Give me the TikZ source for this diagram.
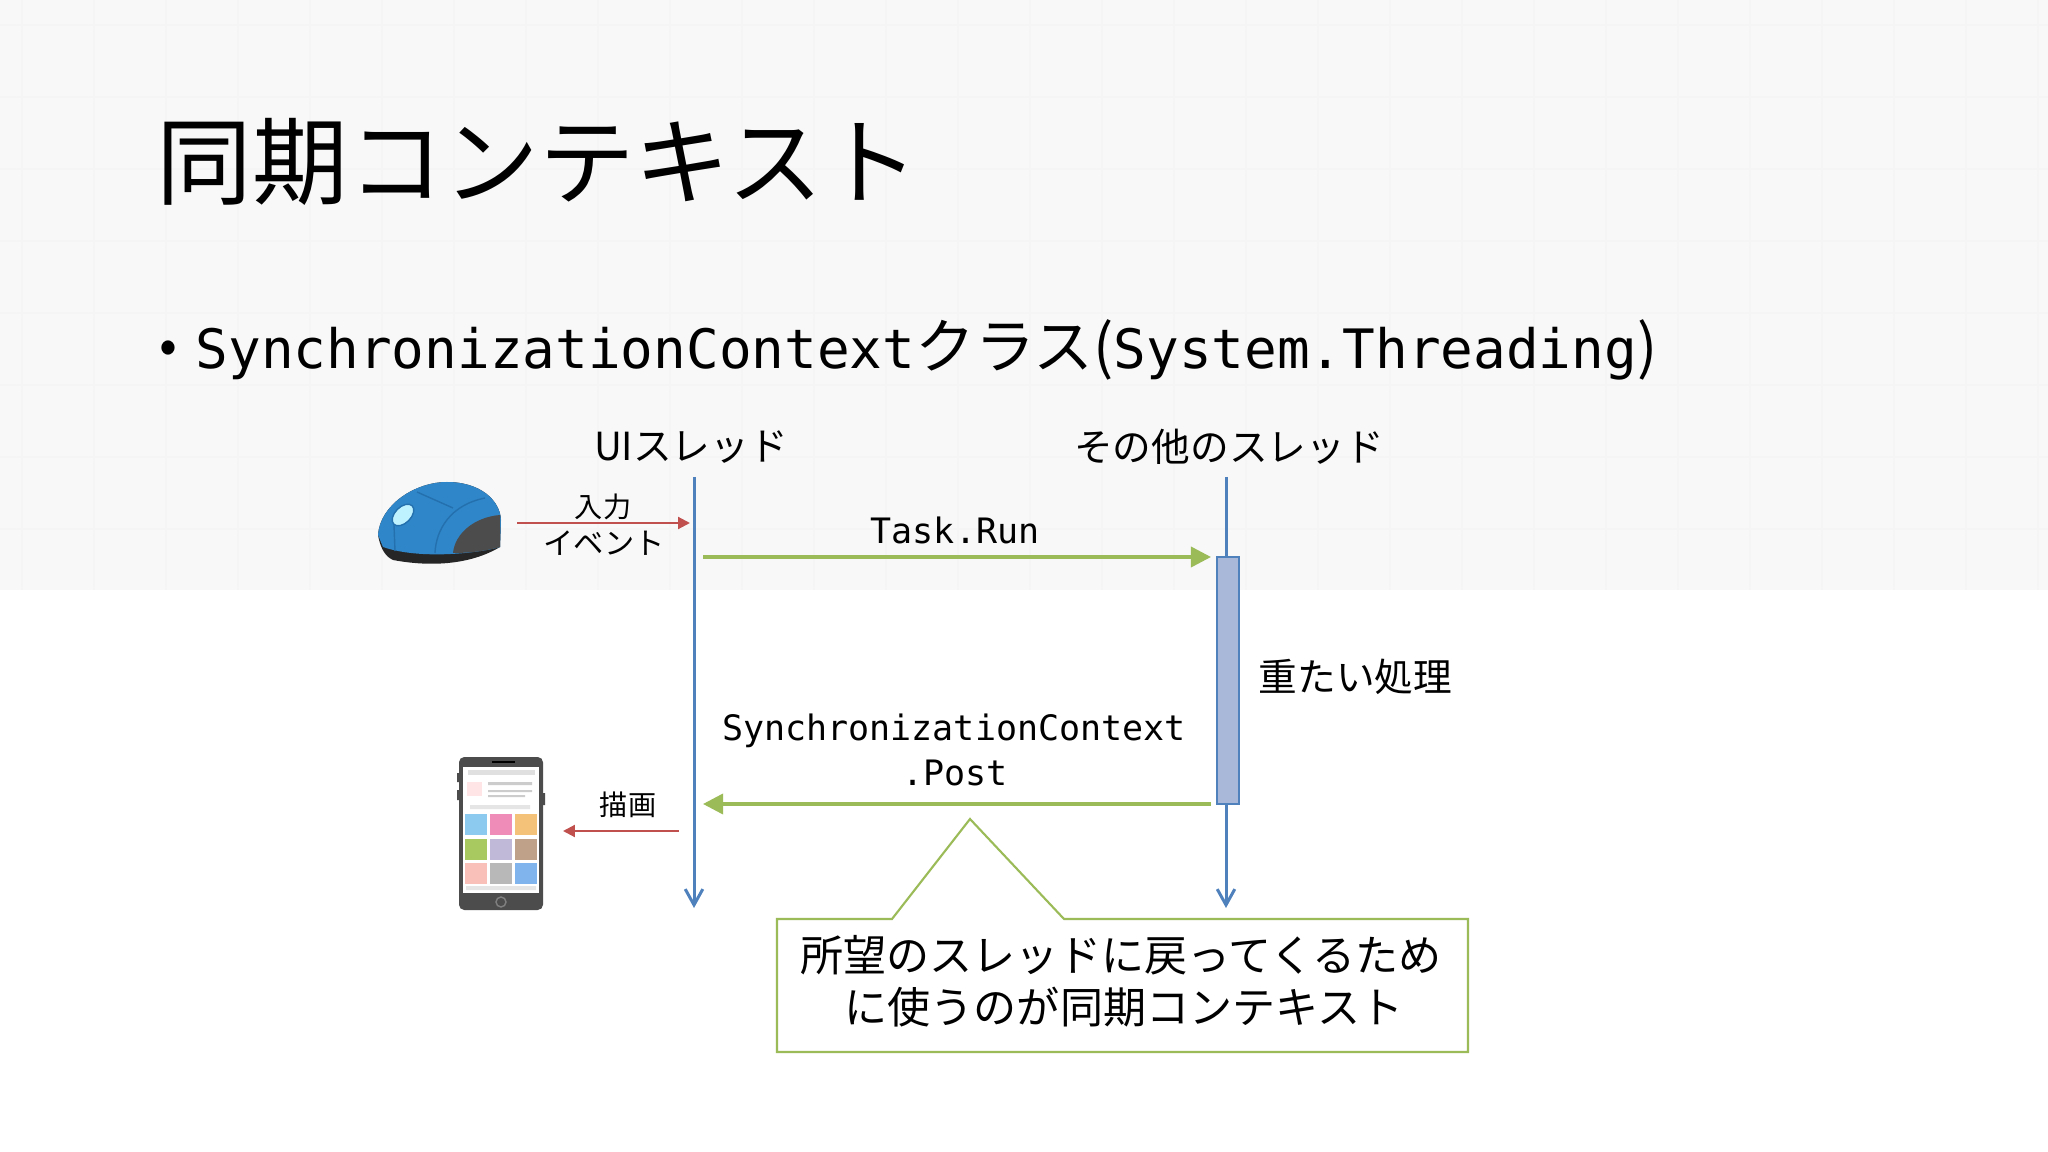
\documentclass[tikz,border=0pt]{standalone}
\usepackage{fontspec}
\setmainfont{Noto Sans CJK JP}
\setmonofont{DejaVu Sans Mono}
\usetikzlibrary{arrows.meta}
\definecolor{lineblue}{HTML}{4F81BD}
\definecolor{linegreen}{HTML}{9BBB59}
\definecolor{linered}{HTML}{C0504D}
\definecolor{boxblue}{HTML}{A9B8D8}
\definecolor{slidegray}{HTML}{F8F8F9}
\definecolor{gridgray}{HTML}{F5F5F6}
\definecolor{mouseblue}{HTML}{2F86C8}
\definecolor{mouseline}{HTML}{2470AE}
\tikzset{
    label/.style={inner sep=0pt,font=\fontsize{11pt}{13pt}\selectfont},
    small label/.style={inner sep=0pt,font=\fontsize{8pt}{10pt}\selectfont},
    code label/.style={inner sep=0pt,font=\ttfamily\fontsize{9.95pt}{12pt}\selectfont},
    lifeline/.style={draw=lineblue,line width=0.85pt,-{Straight Barb[length=4.5pt,width=5pt]}},
    green arrow/.style={draw=linegreen,line width=1pt,-{Triangle[length=5.7pt,width=5.7pt]},color=linegreen},
    red arrow/.style={draw=linered,line width=0.6pt,-{Triangle[length=3.4pt,width=3.4pt]},color=linered},
}
\begin{document}
\begin{tikzpicture}[x=0.01cm,y=-0.01cm]
        \useasboundingbox (0,0) rectangle (2048,1152);
        \fill[white] (0,0) rectangle (2048,1152);
        \fill[slidegray] (0,0) rectangle (2048,590);
        \foreach \x in {22,94,...,2048}
           \draw[gridgray,line width=0.4pt] (\x,0) -- (\x,590);
        \foreach \y in {25,97,...,590}
           \draw[gridgray,line width=0.4pt] (0,\y) -- (2048,\y);

        \node (title) [anchor=west,inner sep=0pt,font=\fontsize{27.2pt}{30pt}\selectfont] at (156,162) {同期コンテキスト};
        \node (bullet) [anchor=center,inner sep=0pt,font=\fontsize{15pt}{20pt}\selectfont] at (168,352) {•};
        \node (subtitle) [anchor=west,inner sep=0pt,font=\fontsize{17pt}{20pt}\selectfont] at (195,350)
            {{\ttfamily\fontsize{15.45pt}{20pt}\selectfont SynchronizationContext}クラス({\ttfamily\fontsize{15.45pt}{20pt}\selectfont System.Threading})};

        \node (ui_label) [label] at (691,447) {UIスレッド};
        \node (other_label) [label] at (1229,447) {その他のスレッド};

% lifelines
        \coordinate (ui_top) at (694,477);
        \coordinate (ui_end) at (694,908);
        \coordinate (other_top) at (1226,477);
        \coordinate (other_end) at (1226,908);
        \draw[lifeline] (ui_top) -- (ui_end);
        \draw[lifeline] (other_top) -- (other_end);
        \node (heavy) [draw=lineblue,fill=boxblue,line width=0.4pt,minimum width=0.22cm,minimum height=2.47cm,inner sep=0pt] at (1228,680.5) {};
        \node (heavy_label) [label,anchor=west] at (1258,677) {重たい処理};

        \coordinate (run_start) at (703,557);
        \coordinate (run_end) at (1211,557);
        \draw[green arrow] (run_start) -- (run_end);
        \node (run_label) [code label] at (955,530) {Task.Run};

        \coordinate (post_start) at (1211,804);
        \coordinate (post_end) at (703,804);
        \draw[green arrow] (post_start) -- (post_end);
        \node (post_label1) [code label] at (954,731) {SynchronizationContext};
        \node (post_label2) [code label] at (955,773) {.Post};

        \coordinate (input_start) at (517,523);
        \coordinate (input_end) at (690,523);
        \draw[red arrow] (input_start) -- (input_end);
        \node (input_label1) [small label] at (603,507) {入力};
        \node (input_label2) [small label,font=\fontsize{8.6pt}{10pt}\selectfont] at (604,543) {イベント};

        \coordinate (draw_start) at (679,831);
        \coordinate (draw_end) at (563,831);
        \draw[red arrow] (draw_start) -- (draw_end);
        \node (draw_label) [small label] at (628,805) {描画};

% balloon
        \draw[linegreen,line width=0.6pt,fill=white] (777,919) -- (892,919) -- (970,819) -- (1064,919) -- (1468,919) -- (1468,1052) -- (777,1052) -- cycle;
        \node (balloon_text1) [inner sep=0pt,font=\fontsize{12.25pt}{14pt}\selectfont] at (1121,955) {所望のスレッドに戻ってくるため};
        \node (balloon_text2) [inner sep=0pt,font=\fontsize{12.25pt}{14pt}\selectfont] at (1124,1007) {に使うのが同期コンテキスト};

% mouse
        \fill[black!85] (378,535) .. controls (380,505) and (415,482) .. (447,482) .. controls (480,482) and (500,500) .. (501,520) -- (500,547) .. controls (470,565) and (430,567) .. (393,560) .. controls (384,556) and (380,546) .. (378,535) -- cycle;
        \fill[mouseblue] (378,535) .. controls (380,505) and (415,482) .. (447,482) .. controls (480,482) and (500,500) .. (501,520) -- (500,547) .. controls (480,553) and (420,560) .. (383,547) -- cycle;
        \fill[black!70] (453,553) .. controls (455,533) and (475,517) .. (500,515) -- (500,547) .. controls (485,551) and (470,553) .. (453,553) -- cycle;
        \draw[mouseline,line width=0.4pt] (435,553) .. controls (436,530) and (450,505) .. (485,498);
        \draw[mouseline,line width=0.4pt] (417,492) -- (453,508);
        \draw[mouseline,line width=0.4pt] (394,525) -- (395,551);
        \draw[mouseline,fill=blue!20!cyan!25!white,line width=0.4pt,rotate around={45:(403,515)}] (403,515) circle [x radius=13,y radius=8];

% phone
        \fill[black!70,rounded corners=1.5pt] (459,757) rectangle (543,910);
        \fill[black!70] (457,773) rectangle (459,782) (457,790) rectangle (459,800) (543,793) rectangle (545,805);
        \fill[white] (463,767) rectangle (539,893);
        \fill[black] (492,761) rectangle (515,763);
        \draw[black!50,line width=0.4pt] (501,902) circle [radius=5];
        \fill[black!12] (468,770) rectangle (535,775);
        \fill[pink!40] (467,782) rectangle (482,796);
        \fill[black!20] (488,782) rectangle (532,785) (488,790) rectangle (532,792) (488,795) rectangle (525,797);
        \fill[black!10] (470,805) rectangle (530,809) (466,886) rectangle (536,890);
        \foreach \col/\row/\tint in {465/814/8CCBEF,490/814/F08CB8,515/814/F5C27A,465/839/A8C860,490/839/C0BAD8,515/839/BFA088,465/863/F8C0B8,490/863/B8B8B8,515/863/80B4EC}{
           \definecolor{tile}{HTML}{\tint}
           \fill[tile] (\col,\row) rectangle (\col+22,\row+21);
        }
\end{tikzpicture}
\end{document}
